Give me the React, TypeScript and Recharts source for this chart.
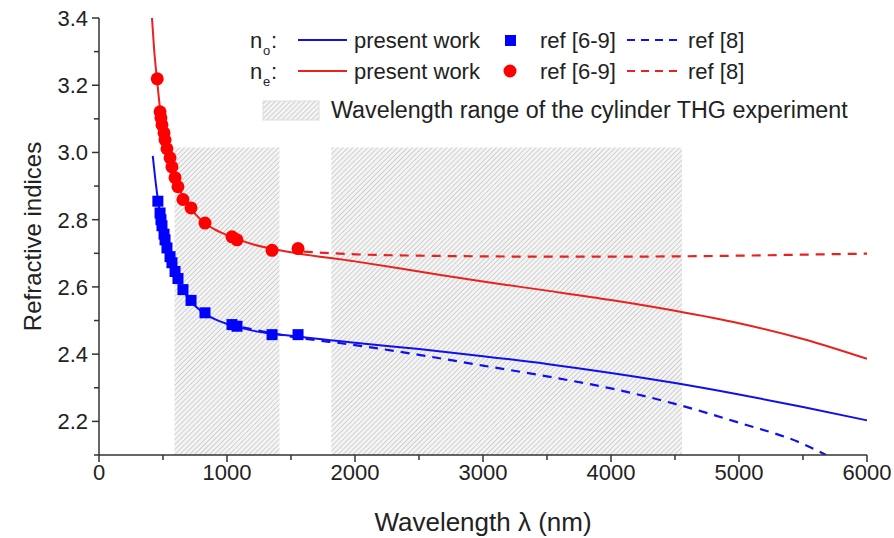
import React from 'react';
import {
  ComposedChart,
  Line,
  Scatter,
  XAxis,
  YAxis,
  ReferenceArea,
  Label,
} from 'recharts';

// wavelength (nm) / refractive index
const noFit = [
  { x: 420, y: 2.99 }, { x: 440, y: 2.92 }, { x: 460, y: 2.86 }, { x: 480, y: 2.81 },
  { x: 500, y: 2.77 }, { x: 530, y: 2.72 }, { x: 560, y: 2.68 }, { x: 600, y: 2.64 },
  { x: 650, y: 2.597 }, { x: 700, y: 2.566 }, { x: 800, y: 2.527 }, { x: 900, y: 2.505 },
  { x: 1000, y: 2.49 }, { x: 1200, y: 2.47 }, { x: 1500, y: 2.455 }, { x: 2000, y: 2.434 },
  { x: 2500, y: 2.415 }, { x: 3000, y: 2.394 }, { x: 3500, y: 2.371 }, { x: 4000, y: 2.344 },
  { x: 4500, y: 2.314 }, { x: 5000, y: 2.28 }, { x: 5500, y: 2.243 }, { x: 6000, y: 2.203 },
];

const neFit = [
  { x: 414, y: 3.4 }, { x: 430, y: 3.31 }, { x: 455, y: 3.21 }, { x: 480, y: 3.12 },
  { x: 500, y: 3.07 }, { x: 525, y: 3.025 }, { x: 555, y: 2.983 }, { x: 580, y: 2.95 },
  { x: 610, y: 2.912 }, { x: 650, y: 2.872 }, { x: 700, y: 2.842 }, { x: 800, y: 2.798 },
  { x: 900, y: 2.772 }, { x: 1000, y: 2.754 }, { x: 1200, y: 2.727 }, { x: 1500, y: 2.703 },
  { x: 2000, y: 2.676 }, { x: 2500, y: 2.646 }, { x: 3000, y: 2.616 }, { x: 3500, y: 2.589 },
  { x: 4000, y: 2.561 }, { x: 4500, y: 2.529 }, { x: 5000, y: 2.492 }, { x: 5500, y: 2.445 },
  { x: 6000, y: 2.386 },
];

const noRef = [
  { x: 460, y: 2.855 }, { x: 477, y: 2.82 }, { x: 484, y: 2.8 }, { x: 492, y: 2.782 },
  { x: 508, y: 2.757 }, { x: 516, y: 2.74 }, { x: 531, y: 2.716 }, { x: 555, y: 2.69 },
  { x: 570, y: 2.672 }, { x: 594, y: 2.646 }, { x: 617, y: 2.625 }, { x: 656, y: 2.592 },
  { x: 719, y: 2.56 }, { x: 828, y: 2.523 }, { x: 1039, y: 2.488 }, { x: 1078, y: 2.483 },
  { x: 1352, y: 2.458 }, { x: 1555, y: 2.458 },
];

const neRef = [
  { x: 455, y: 3.219 }, { x: 477, y: 3.121 }, { x: 484, y: 3.103 }, { x: 492, y: 3.082 },
  { x: 508, y: 3.058 }, { x: 516, y: 3.037 }, { x: 531, y: 3.011 }, { x: 555, y: 2.984 },
  { x: 570, y: 2.957 }, { x: 594, y: 2.925 }, { x: 617, y: 2.898 }, { x: 656, y: 2.86 },
  { x: 719, y: 2.835 }, { x: 828, y: 2.79 }, { x: 1039, y: 2.749 }, { x: 1078, y: 2.74 },
  { x: 1352, y: 2.709 }, { x: 1555, y: 2.714 },
];

const noRef8 = [
  { x: 1000, y: 2.49 }, { x: 1500, y: 2.452 }, { x: 2000, y: 2.427 }, { x: 2500, y: 2.398 },
  { x: 3000, y: 2.366 }, { x: 3500, y: 2.334 }, { x: 4000, y: 2.298 }, { x: 4500, y: 2.252 },
  { x: 5000, y: 2.196 }, { x: 5500, y: 2.133 }, { x: 5680, y: 2.1 },
];

const neRef8 = [
  { x: 1600, y: 2.705 }, { x: 2000, y: 2.697 }, { x: 2500, y: 2.693 }, { x: 3000, y: 2.691 },
  { x: 3500, y: 2.69 }, { x: 4000, y: 2.69 }, { x: 4500, y: 2.691 }, { x: 5000, y: 2.693 },
  { x: 5500, y: 2.696 }, { x: 6000, y: 2.699 },
];

// THG experiment wavelength ranges [from, to] and the top of the hatched boxes
const thgRanges = [[590, 1410], [1815, 4555]];
const thgTop = 3.015;

const xTicks = [0, 500, 1000, 1500, 2000, 2500, 3000, 3500, 4000, 4500, 5000, 5500, 6000];
const xLabels = [0, 1000, 2000, 3000, 4000, 5000, 6000];
const yTicks = [2.1, 2.2, 2.3, 2.4, 2.5, 2.6, 2.7, 2.8, 2.9, 3.0, 3.1, 3.2, 3.3, 3.4];
const yLabels = [2.2, 2.4, 2.6, 2.8, 3.0, 3.2, 3.4];

const FONT = '"Liberation Sans", Arial, sans-serif';
const AXIS = '#333';
const BLUE = '#1010ee';
const RED = '#e8221e';

const isMajor = (list: number[], v: number) => list.some((l) => Math.abs(l - v) < 1e-6);

const BottomTick = ({ x, y, payload }: any) => {
  const major = isMajor(xLabels, payload.value);
  return (
    <g>
      <line x1={x} x2={x} y1={y} y2={y + (major ? 7 : 5)} stroke={AXIS} strokeWidth={1.5} />
      {major && (
        <text x={x} y={y + 25} textAnchor="middle" fontSize={22} fill="#222" fontFamily={FONT}>
          {payload.value}
        </text>
      )}
    </g>
  );
};

const TopTick = ({ x, y, payload }: any) => {
  const major = isMajor(xLabels, payload.value);
  return <line x1={x} x2={x} y1={y} y2={y + (major ? 8 : 5)} stroke={AXIS} strokeWidth={1.5} />;
};

const LeftTick = ({ x, y, payload }: any) => {
  const major = isMajor(yLabels, payload.value);
  return (
    <g>
      <line x1={x} x2={x - (major ? 7 : 5)} y1={y} y2={y} stroke={AXIS} strokeWidth={1.5} />
      {major && (
        <text x={x - 11} y={y} dy="0.36em" textAnchor="end" fontSize={22} fill="#222" fontFamily={FONT}>
          {payload.value.toFixed(1)}
        </text>
      )}
    </g>
  );
};

const RightTick = ({ x, y, payload }: any) => {
  const major = isMajor(yLabels, payload.value);
  return <line x1={x} x2={x - (major ? 9 : 5)} y1={y} y2={y} stroke={AXIS} strokeWidth={1.5} />;
};

const Square = ({ cx, cy }: any) => <rect x={cx - 5.5} y={cy - 5.5} width={11} height={11} fill="#0000ff" />;
const Dot = ({ cx, cy }: any) => <circle cx={cx} cy={cy} r={6.5} fill="#ff0000" />;

const LegendOverlay = () => (
  <svg width={894} height={538} style={{ position: 'absolute', left: 0, top: 0, pointerEvents: 'none' }}>
    <g fontFamily={FONT} fill="#222">
      <text x={250} y={48} fontSize={22}>n</text>
      <text x={263} y={55} fontSize={13}>o</text>
      <text x={271} y={48} fontSize={22}>:</text>
      <line x1={298} x2={347} y1={40} y2={40} stroke={BLUE} strokeWidth={2} />
      <text x={354} y={48} fontSize={22}>present work</text>
      <rect x={505} y={35} width={11} height={11} fill="#0000ff" />
      <text x={540} y={48} fontSize={22}>ref [6-9]</text>
      <line x1={627} x2={680} y1={40} y2={40} stroke={BLUE} strokeWidth={2} strokeDasharray="8 6" />
      <text x={688} y={48} fontSize={22}>ref [8]</text>

      <text x={250} y={79} fontSize={22}>n</text>
      <text x={263} y={86} fontSize={13}>e</text>
      <text x={271} y={79} fontSize={22}>:</text>
      <line x1={298} x2={347} y1={71} y2={71} stroke={RED} strokeWidth={2} />
      <text x={354} y={79} fontSize={22}>present work</text>
      <circle cx={510} cy={71} r={6.5} fill="#ff0000" />
      <text x={540} y={79} fontSize={22}>ref [6-9]</text>
      <line x1={627} x2={680} y1={71} y2={71} stroke={RED} strokeWidth={2} strokeDasharray="8 6" />
      <text x={688} y={79} fontSize={22}>ref [8]</text>

      <rect x={263} y={101} width={56} height={19} fill="url(#hatchLegend)" stroke="#ddd" />
      <text x={331} y={118} fontSize={23.3}>Wavelength range of the cylinder THG experiment</text>
    </g>
    <defs>
      <pattern id="hatchLegend" width={3.5} height={3.5} patternUnits="userSpaceOnUse" patternTransform="rotate(45)">
        <rect width={3.5} height={3.5} fill="#f4f4f4" />
        <line x1={0} y1={0} x2={0} y2={3.5} stroke="#b4b4b4" strokeWidth={1.1} />
      </pattern>
    </defs>
  </svg>
);

export default function App() {
  return (
    <div style={{ position: 'absolute', left: 0, top: 0, width: 894, height: 538, background: '#fff', fontFamily: FONT }}>
      <ComposedChart width={894} height={538} margin={{ top: 18, right: 27, bottom: 0, left: 0 }}>
        <defs>
          <pattern id="hatch" width={3.5} height={3.5} patternUnits="userSpaceOnUse" patternTransform="rotate(45)">
            <rect width={3.5} height={3.5} fill="#f4f4f4" />
            <line x1={0} y1={0} x2={0} y2={3.5} stroke="#b4b4b4" strokeWidth={1.1} />
          </pattern>
        </defs>
        <XAxis
          xAxisId="b"
          dataKey="x"
          type="number"
          domain={[0, 6000]}
          ticks={xTicks}
          interval={0}
          height={83}
          tickSize={0}
          tickMargin={0}
          tick={<BottomTick />}
          axisLine={{ stroke: AXIS, strokeWidth: 1.5 }}
          allowDataOverflow
        >
          <Label
            content={({ viewBox }: any) => (
              <text
                x={viewBox.x + viewBox.width / 2}
                y={viewBox.y + 76}
                textAnchor="middle"
                fontSize={26}
                fill="#222"
                fontFamily={FONT}
              >
                Wavelength λ (nm)
              </text>
            )}
          />
        </XAxis>
        <XAxis
          xAxisId="t"
          orientation="top"
          type="number"
          domain={[0, 6000]}
          ticks={xTicks}
          interval={0}
          height={0}
          tickSize={0}
          tickMargin={0}
          tick={<TopTick />}
          axisLine={{ stroke: AXIS, strokeWidth: 1.5 }}
          allowDataOverflow
        />
        <YAxis
          yAxisId="l"
          dataKey="y"
          type="number"
          domain={[2.1, 3.4]}
          ticks={yTicks}
          interval={0}
          width={99}
          tickSize={0}
          tickMargin={0}
          tick={<LeftTick />}
          axisLine={{ stroke: AXIS, strokeWidth: 1.5 }}
          allowDataOverflow
        >
          <Label
            content={({ viewBox }: any) => {
              const cx = 32;
              const cy = viewBox.y + viewBox.height / 2;
              return (
                <text
                  x={cx}
                  y={cy}
                  transform={`rotate(-90 ${cx} ${cy})`}
                  textAnchor="middle"
                  dominantBaseline="central"
                  fontSize={24}
                  fill="#222"
                  fontFamily={FONT}
                >
                  Refractive indices
                </text>
              );
            }}
          />
        </YAxis>
        <YAxis
          yAxisId="r"
          orientation="right"
          type="number"
          domain={[2.1, 3.4]}
          ticks={yTicks}
          interval={0}
          width={0}
          tickSize={0}
          tickMargin={0}
          tick={<RightTick />}
          axisLine={{ stroke: AXIS, strokeWidth: 1.5 }}
          allowDataOverflow
        />

        {thgRanges.map(([a, b]) => (
          <ReferenceArea
            key={a}
            xAxisId="b"
            yAxisId="l"
            x1={a}
            x2={b}
            y1={2.1}
            y2={thgTop}
            fill="url(#hatch)"
            fillOpacity={1}
            stroke="none"
          />
        ))}

        <Line xAxisId="b" yAxisId="l" data={noRef8} dataKey="y" type="monotone" stroke={BLUE} strokeWidth={2.2} strokeDasharray="9 7" dot={false} isAnimationActive={false} />
        <Line xAxisId="b" yAxisId="l" data={neRef8} dataKey="y" type="monotone" stroke={RED} strokeWidth={2.2} strokeDasharray="9 7" dot={false} isAnimationActive={false} />
        <Line xAxisId="b" yAxisId="l" data={noFit} dataKey="y" type="monotone" stroke={BLUE} strokeWidth={2} dot={false} isAnimationActive={false} />
        <Line xAxisId="b" yAxisId="l" data={neFit} dataKey="y" type="monotone" stroke={RED} strokeWidth={2} dot={false} isAnimationActive={false} />
        <Scatter xAxisId="b" yAxisId="l" data={noRef} dataKey="y" shape={<Square />} isAnimationActive={false} />
        <Scatter xAxisId="b" yAxisId="l" data={neRef} dataKey="y" shape={<Dot />} isAnimationActive={false} />
      </ComposedChart>
      <LegendOverlay />
    </div>
  );
}
